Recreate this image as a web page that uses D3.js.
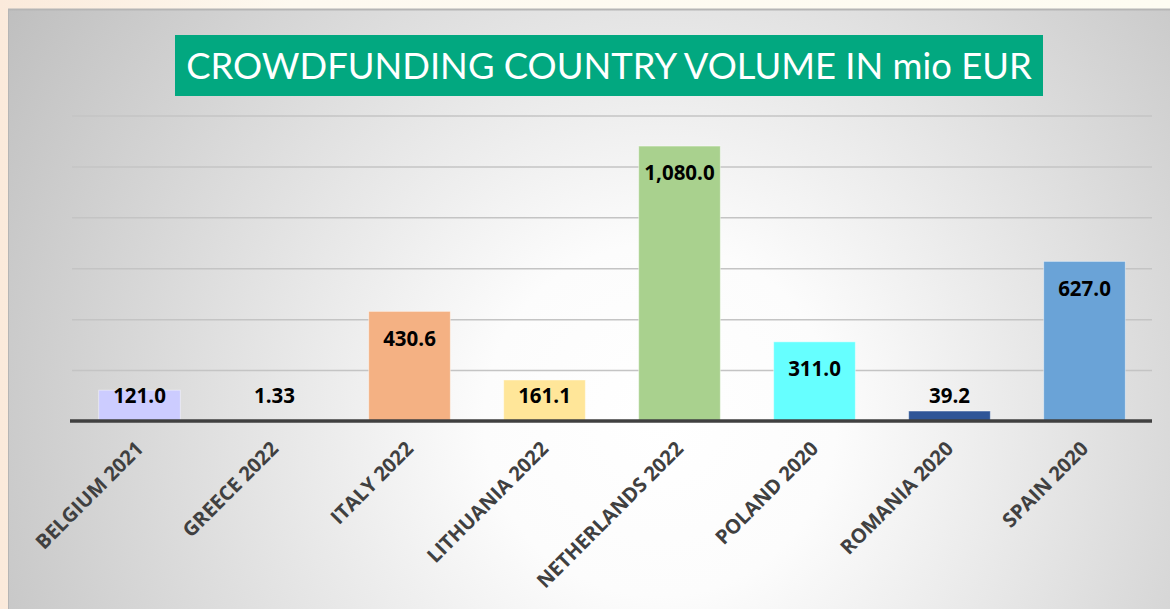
<!DOCTYPE html>
<html>
<head>
<meta charset="utf-8">
<script src="https://cdn.jsdelivr.net/npm/d3@7"></script>
<style>
  html, body { margin: 0; padding: 0; background: #fbf7ef; }
  svg { display: block; }
</style>
</head>
<body>
<div id="chart"></div>
<script>
'use strict';

const categories = ['BELGIUM 2021', 'GREECE 2022', 'ITALY 2022', 'LITHUANIA 2022',
  'NETHERLANDS 2022', 'POLAND 2020', 'ROMANIA 2020', 'SPAIN 2020'];
const volumes = [121.0, 1.33, 430.6, 161.1, 1080.0, 311.0, 39.2, 627.0];
const valueLabels = ['121.0', '1.33', '430.6', '161.1', '1,080.0', '311.0', '39.2', '627.0'];
const barColors = ['#ccccff', '#f2f2f2', '#f4b183', '#ffe699', '#a9d18e', '#66ffff', '#2f5597', '#6aa3d7'];
const gridTicks = [0, 200, 400, 600, 800, 1000, 1200];
const titleText = 'CROWDFUNDING COUNTRY VOLUME IN mio EUR';

const width = 1170, height = 609;
const margin = { top: 115.5, left: 72, bottom: 188, right: 18 };
const plotW = width - margin.left - margin.right;
const plotH = height - margin.top - margin.bottom;

const svg = d3.select('#chart').append('svg')
  .attr('width', width)
  .attr('height', height);

const defs = svg.append('defs');
const grad = defs.append('radialGradient')
  .attr('id', 'panelGrad')
  .attr('gradientUnits', 'userSpaceOnUse')
  .attr('cx', 660).attr('cy', 420).attr('r', 800);
grad.append('stop').attr('offset', '0%').attr('stop-color', '#ffffff');
grad.append('stop').attr('offset', '22%').attr('stop-color', '#fcfcfc');
grad.append('stop').attr('offset', '100%').attr('stop-color', '#bcbcbc');

// slide background around the panel
const slideGrad = defs.append('linearGradient').attr('id', 'slideGrad')
  .attr('x1', 0).attr('x2', 1).attr('y1', 0).attr('y2', 0);
slideGrad.append('stop').attr('offset', '0%').attr('stop-color', '#fbeadb');
slideGrad.append('stop').attr('offset', '25%').attr('stop-color', '#fdf9f0');
slideGrad.append('stop').attr('offset', '100%').attr('stop-color', '#fdfcf2');
svg.append('rect').attr('width', width).attr('height', height).attr('fill', 'url(#slideGrad)');

svg.append('rect')
  .attr('x', 8).attr('y', 9)
  .attr('width', width - 8).attr('height', height - 9)
  .attr('fill', 'url(#panelGrad)');
svg.append('line')
  .attr('x1', 8).attr('x2', width).attr('y1', 9.5).attr('y2', 9.5)
  .attr('stroke', '#b5b5b5').attr('stroke-width', 2);
svg.append('line')
  .attr('x1', 8.5).attr('x2', 8.5).attr('y1', 9).attr('y2', height)
  .attr('stroke', '#b5b5b5').attr('stroke-width', 1);

const x = d3.scaleBand()
  .domain(categories)
  .range([0, plotW])
  .paddingInner(0.395)
  .paddingOuter(0.1975);

const y = d3.scaleLinear()
  .domain([0, 1200])
  .range([plotH, 0]);

const chart = svg.append('g')
  .attr('transform', `translate(${margin.left}, ${margin.top})`);

// gridlines
chart.append('g')
  .attr('class', 'grid')
  .call(d3.axisLeft(y).tickValues(gridTicks.slice(1)).tickSize(-plotW).tickFormat(''))
  .call(g => g.select('.domain').remove())
  .call(g => g.selectAll('line').attr('stroke', '#c4c4c4').attr('stroke-width', 1.5));

// bars
chart.selectAll('.bar')
  .data(volumes)
  .enter().append('rect')
  .attr('class', 'bar')
  .attr('x', (d, i) => x(categories[i]))
  .attr('y', d => y(d))
  .attr('width', x.bandwidth())
  .attr('height', d => plotH - y(d))
  .attr('fill', (d, i) => barColors[i])
  .attr('stroke', 'rgba(255,255,255,0.45)')
  .attr('stroke-width', 1);

// x axis
const xAxis = chart.append('g')
  .attr('class', 'x-axis')
  .attr('transform', `translate(0, ${plotH})`)
  .call(d3.axisBottom(x).tickSize(0).tickPadding(0));
xAxis.select('.domain')
  .attr('d', `M-2,0H${plotW}`)
  .attr('stroke', '#404040')
  .attr('stroke-width', 3.5);
xAxis.selectAll('text')
  .style('font-family', '"Open Sans", sans-serif')
  .style('font-weight', 'bold')
  .style('font-size', '20px')
  .attr('fill', '#404040')
  .attr('text-anchor', 'end')
  .attr('dy', 0)
  .attr('transform', 'translate(5, 29) rotate(-45)');

// value labels
chart.selectAll('.value')
  .data(volumes)
  .enter().append('text')
  .attr('class', 'value')
  .attr('x', (d, i) => x(categories[i]) + x.bandwidth() / 2)
  .attr('y', d => Math.min(y(d) + 27, plotH - 25))
  .attr('dy', '0.35em')
  .attr('text-anchor', 'middle')
  .style('font-family', '"Open Sans", sans-serif')
  .style('font-weight', 'bold')
  .style('font-size', '20.5px')
  .attr('fill', '#000000')
  .text((d, i) => valueLabels[i]);

// title box
svg.append('rect')
  .attr('x', 175).attr('y', 35)
  .attr('width', 868).attr('height', 61)
  .attr('fill', '#02a880');
const title = svg.append('text')
  .attr('x', 609).attr('y', 66)
  .attr('dy', '0.36em')
  .attr('text-anchor', 'middle')
  .attr('font-family', 'Lato, "Open Sans", sans-serif')
  .attr('font-size', 36)
  .attr('fill', '#ffffff')
  .text(titleText);
const tw = title.node().getComputedTextLength();
title.attr('font-size', 36 * 846 / tw);
</script>
</body>
</html>
